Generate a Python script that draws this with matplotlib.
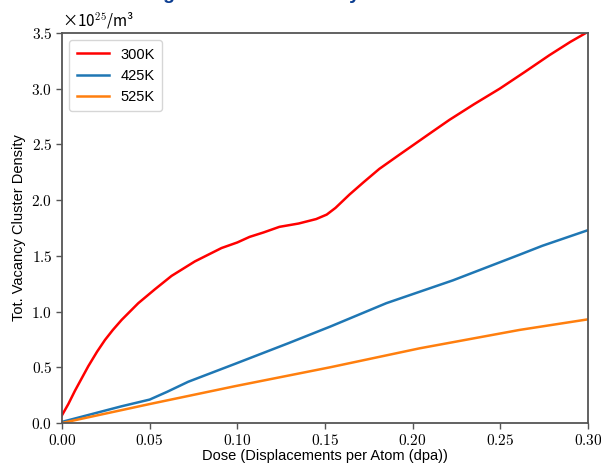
import matplotlib
matplotlib.use("Agg")
import matplotlib.pyplot as plt
from matplotlib.ticker import FuncFormatter, MultipleLocator

plt.rcParams["mathtext.fontset"] = "cm"
plt.rcParams["font.family"] = ["Liberation Sans", "DejaVu Sans"]

# dose (dpa) and total vacancy cluster density (x1e25 /m^3)
dose_300 = [0.0, 0.0036, 0.0074, 0.0112, 0.015, 0.02, 0.0245, 0.029, 0.034, 0.0435,
            0.053, 0.0625, 0.0758, 0.091, 0.1, 0.107, 0.115, 0.124, 0.135, 0.145,
            0.151, 0.156, 0.164, 0.172, 0.181, 0.1927, 0.2, 0.21, 0.221, 0.235,
            0.2497, 0.264, 0.278, 0.29, 0.30]
dens_300 = [0.07, 0.17, 0.29, 0.40, 0.51, 0.64, 0.745, 0.835, 0.925, 1.075,
            1.20, 1.32, 1.45, 1.57, 1.62, 1.67, 1.71, 1.76, 1.79, 1.83,
            1.87, 1.93, 2.05, 2.16, 2.28, 2.41, 2.49, 2.60, 2.72, 2.86,
            3.00, 3.15, 3.30, 3.42, 3.51]

dose_425 = [0.0, 0.034, 0.05, 0.06, 0.072, 0.0986, 0.129, 0.153, 0.185, 0.223,
            0.261, 0.274, 0.30]
dens_425 = [0.01, 0.15, 0.21, 0.28, 0.37, 0.53, 0.715, 0.865, 1.075, 1.28,
            1.51, 1.59, 1.73]

dose_525 = [0.0, 0.05, 0.0986, 0.153, 0.204, 0.261, 0.30]
dens_525 = [0.0, 0.17, 0.33, 0.50, 0.67, 0.835, 0.93]

labels = ["300K", "425K", "525K"]
colors = ["#ff0000", "#1f77b4", "#ff7f0e"]

fig = plt.figure(figsize=(6.01, 4.66), dpi=100)
ax = fig.add_axes([0.1032, 0.0923, 0.875, 0.837])

series = [(dose_300, dens_300), (dose_425, dens_425), (dose_525, dens_525)]
for (x, y), lab, c in zip(series, labels, colors):
    ax.plot(x, y, color=c, lw=1.8, label=lab)

ax.set_xlim(0, 0.30)
ax.set_ylim(0, 3.5)
ax.xaxis.set_major_locator(MultipleLocator(0.05))
ax.yaxis.set_major_locator(MultipleLocator(0.5))
ax.xaxis.set_major_formatter(FuncFormatter(lambda v, p: f"${v:.2f}$"))
ax.yaxis.set_major_formatter(FuncFormatter(lambda v, p: f"${v:.1f}$"))
ax.tick_params(labelsize=11, length=4, width=1, color="#555555", pad=3)

for s in ax.spines.values():
    s.set_color("#555555")
    s.set_linewidth(1.3)

ax.set_xlabel("Dose (Displacements per Atom (dpa))", fontsize=10.5, labelpad=1)
ax.set_ylabel("Tot. Vacancy Cluster Density", fontsize=10.5, labelpad=4)
ax.text(0.0, 1.008, "×10$^{25}$/m³", transform=ax.transAxes,
        fontsize=11, va="bottom", ha="left",
        family=["Noto Sans CJK JP", "DejaVu Sans"])

ax.legend(loc="upper left", fontsize=10.5, handlelength=2.2, borderpad=0.5,
          labelspacing=0.5, fancybox=True)

# title cut off at the top edge of the image, only descenders show
fig.text(0.183, 1.0 + 1 / 466, "Damage and Total Vacancy Clusters", color="#0b3d91",
         fontsize=14, fontweight="bold", ha="left", va="baseline")

fig.savefig("out.png", dpi=100)
